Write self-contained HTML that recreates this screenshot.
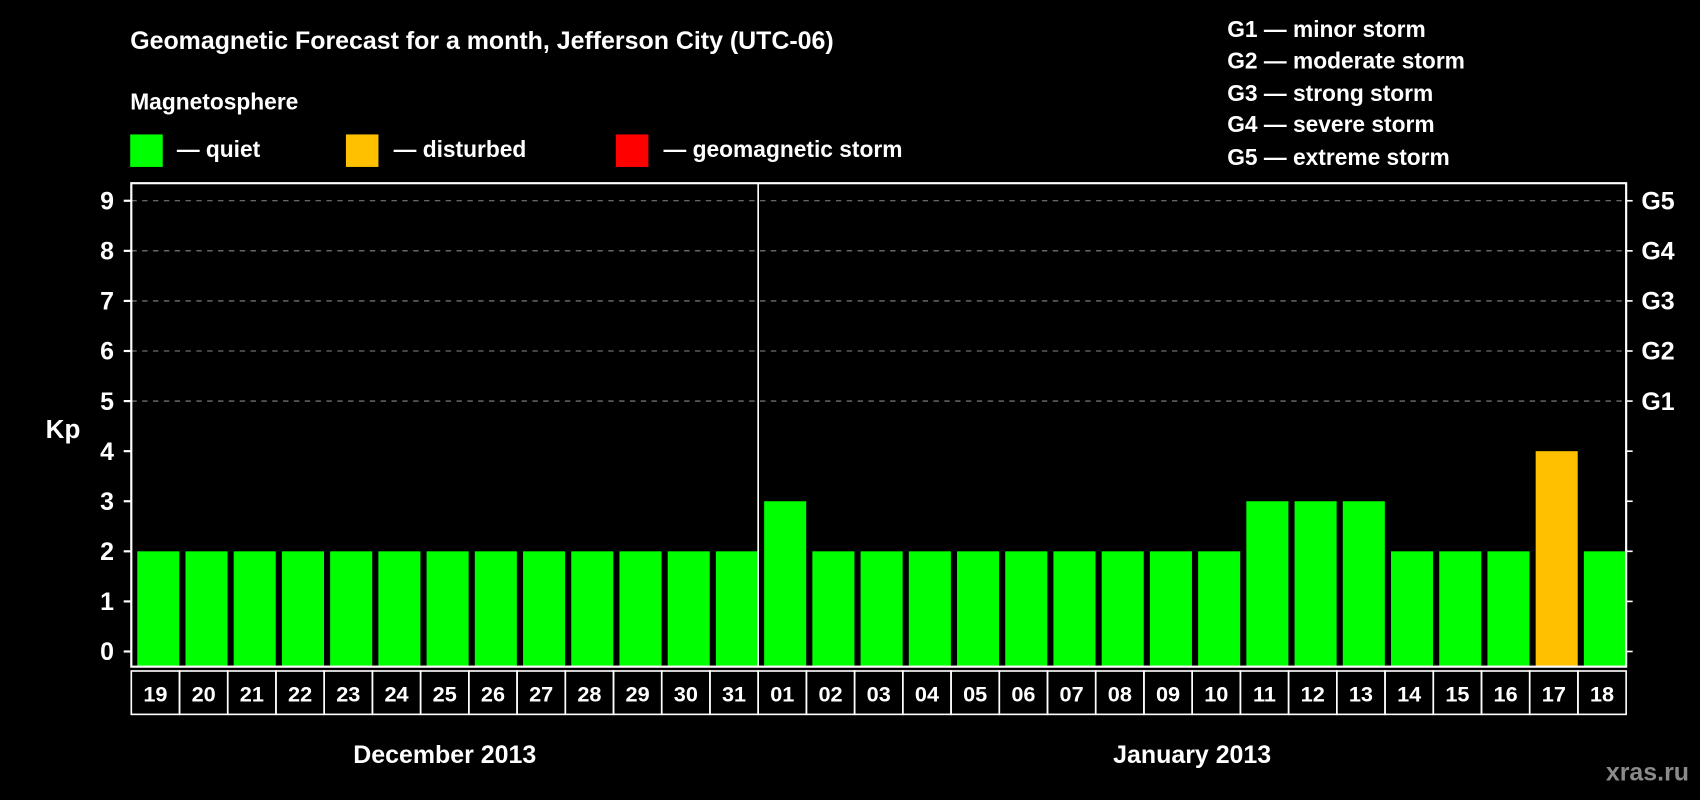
<!DOCTYPE html>
<html><head><meta charset="utf-8"><style>
html,body{margin:0;padding:0;background:#000;}
svg{display:block;font-family:"Liberation Sans",sans-serif;font-weight:bold;}
</style></head><body>
<svg id="chart" width="1700" height="800" viewBox="0 0 1568 738" xmlns="http://www.w3.org/2000/svg">
<rect x="0" y="0" width="1568" height="738" fill="#000"/>
<text x="120" y="45" fill="#fff" font-size="23">Geomagnetic Forecast for a month, Jefferson City (UTC-06)</text>
<text x="120" y="101" fill="#fff" font-size="21">Magnetosphere</text>
<g><rect x="120" y="124" width="30" height="30" fill="#00ff00"/><text x="163" y="145" fill="#fff" font-size="21">— quiet</text></g>
<g><rect x="319" y="124" width="30" height="30" fill="#ffc000"/><text x="363" y="145" fill="#fff" font-size="21">— disturbed</text></g>
<g><rect x="568" y="124" width="30" height="30" fill="#ff0000"/><text x="612" y="145" fill="#fff" font-size="21">— geomagnetic storm</text></g>
<g fill="#fff" font-size="21">
<text x="1132" y="34">G1 — minor storm</text>
<text x="1132" y="63">G2 — moderate storm</text>
<text x="1132" y="93">G3 — strong storm</text>
<text x="1132" y="122">G4 — severe storm</text>
<text x="1132" y="152">G5 — extreme storm</text>
</g>
<text x="58" y="404" fill="#fff" font-size="24" text-anchor="middle">Kp</text>
<g id="plot"></g>
<text x="1558" y="720" fill="#8a8a8a" font-size="23" text-anchor="end">xras.ru</text>
</svg>
<script>
const days = ["19","20","21","22","23","24","25","26","27","28","29","30","31","01","02","03","04","05","06","07","08","09","10","11","12","13","14","15","16","17","18"];
const kpValues = [2,2,2,2,2,2,2,2,2,2,2,2,2,3,2,2,2,2,2,2,2,2,2,3,3,3,2,2,2,4,2];
const yTicks = [0,1,2,3,4,5,6,7,8,9];
const gLabels = ["G1","G2","G3","G4","G5"];
const gLevels = [5,6,7,8,9];
const months = ["December 2013","January 2013"];
const monthCounts = [13,18];

const NS="http://www.w3.org/2000/svg";
const g=document.getElementById('plot');
const L=121,R=1500,T=169,B=615;
const slot=(R-L)/days.length;
const y=v=>601-v*46.2;
const xs=i=>L+i*slot;
function mk(t,a){const e=document.createElementNS(NS,t);for(const k in a)e.setAttribute(k,a[k]);g.appendChild(e);return e;}
gLevels.forEach((v,i)=>{
 const ln=mk('line',{x1:L,x2:R,y1:y(v),y2:y(v),stroke:'#888','stroke-dasharray':'5,5','stroke-width':1});
 
 
 const t=mk('text',{x:1514,y:y(v)+8,fill:'#fff','font-size':23});
 t.textContent=gLabels[i];
 
 
});
yTicks.forEach(v=>{
 mk('line',{x1:114,x2:L,y1:y(v),y2:y(v),stroke:'#fff','stroke-width':2});
 mk('line',{x1:R,x2:R+6,y1:y(v),y2:y(v),stroke:'#fff','stroke-width':1.5});
 const t=mk('text',{x:105,y:y(v)+8,fill:'#fff','font-size':23,'text-anchor':'end'});
 t.textContent=v;
 
 
});
kpValues.forEach((v,i)=>{
 const c=v>=5?'#ff0000':(v>=4?'#ffc000':'#00ff00');
 const b=mk('rect',{x:xs(i)+5.5,y:y(v),width:38.8,height:B-y(v),fill:c});
 
 
 const bx=mk('rect',{x:xs(i),y:619,width:slot,height:40,fill:'none',stroke:'#fff','stroke-width':1.5});
 
 
 const t=mk('text',{x:xs(i)+slot/2,y:647,fill:'#fff','font-size':20,'text-anchor':'middle'});
 t.textContent=days[i];
 
 
});
const fr=mk('rect',{x:L,y:T,width:R-L,height:B-T,fill:'none',stroke:'#fff','stroke-width':2});


let start=0;
months.forEach((m,i)=>{
 const x0=xs(start),x1=xs(start+monthCounts[i]);
 if(i>0){const s=mk('line',{x1:x0,x2:x0,y1:T,y2:B,stroke:'#fff','stroke-width':1.5});
  
  }
 const t=mk('text',{x:(x0+x1)/2,y:704,fill:'#fff','font-size':23,'text-anchor':'middle'});
 t.textContent=m;
 
 
 start+=monthCounts[i];
});
</script>
</body></html>
